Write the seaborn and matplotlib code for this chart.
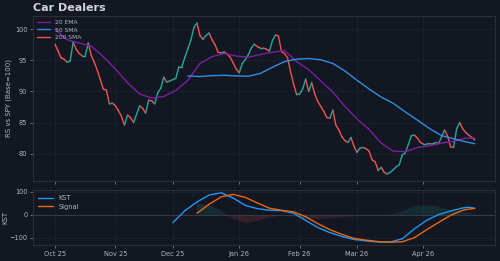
import matplotlib
matplotlib.use("Agg")

import numpy as np
import pandas as pd
import matplotlib.pyplot as plt
import seaborn as sns

# ---------- data ----------
holidays = ["2025-11-27", "2025-12-25", "2026-01-01", "2026-01-19",
            "2026-02-16", "2026-04-03"]
dates = pd.bdate_range("2025-10-06", periods=140, freq="C", holidays=holidays)

rs = [97.6, 96.5, 95.4, 95.2, 94.7, 94.9, 97.9, 96.8, 96.1, 95.75,
      95.75, 97.8, 95.8, 94.7, 93.4, 91.9, 90.35, 90.25, 88.0, 88.1,
      87.7, 86.9, 86.0, 84.6, 86.2, 85.8, 85.0, 86.3, 87.7, 87.3,
      86.5, 88.6, 88.5, 88.0, 89.8, 90.5, 92.3, 91.5, 91.7, 91.9,
      92.1, 94.0, 94.0, 95.5, 96.9, 98.3, 100.3, 101.0, 99.0, 98.4,
      99.0, 99.4, 98.3, 97.5, 96.3, 96.2, 96.35, 96.0, 95.5, 94.6,
      93.6, 93.0, 94.5, 95.1, 95.9, 97.0, 97.6, 97.2, 97.0, 97.0,
      96.8, 96.5, 98.2, 99.1, 98.9, 96.4, 96.1, 95.4, 93.2, 91.2,
      89.5, 89.6, 90.4, 92.0, 90.0, 91.4, 89.6, 88.4, 87.6, 86.8,
      85.8, 85.7, 87.0, 84.6, 83.8, 82.7, 82.1, 81.8, 82.6, 81.2,
      80.2, 80.9, 81.0, 80.8, 80.4, 79.0, 78.7, 77.3, 77.8, 77.0,
      76.75, 77.0, 77.4, 77.9, 78.2, 79.8, 80.1, 81.5, 82.9, 83.0,
      82.5, 81.8, 81.55, 81.55, 81.6, 81.55, 81.8, 81.6, 82.7, 83.8,
      82.8, 81.1, 81.0, 84.0, 85.0, 84.0, 83.4, 83.0, 82.6, 82.2]

ema_idx = [0, 4, 8, 12, 16, 20, 24, 28, 32, 36, 40, 44, 48, 52, 56, 60, 64,
           68, 72, 76, 80, 84, 88, 92, 96, 100, 104, 108, 112, 116, 120, 124,
           128, 132, 136, 139]
ema_val = [100.0, 98.3, 97.8, 97.3, 95.6, 93.6, 91.4, 89.6, 88.95, 89.2,
           90.15, 91.8, 94.5, 95.6, 96.1, 95.7, 95.5, 95.95, 96.3, 96.6,
           94.8, 93.5, 91.7, 89.9, 87.6, 85.6, 83.9, 81.7, 80.4, 80.3,
           81.0, 81.25, 81.7, 82.0, 82.5, 82.5]

sma_idx = [44, 48, 52, 56, 60, 64, 68, 72, 76, 80, 84, 88, 92, 96, 100, 104,
           108, 112, 116, 120, 124, 128, 132, 136, 139]
sma_val = [92.5, 92.4, 92.55, 92.6, 92.5, 92.45, 92.9, 93.9, 94.8, 95.2,
           95.3, 95.1, 94.5, 93.3, 91.8, 90.4, 89.1, 88.1, 86.7, 85.4,
           84.05, 82.9, 82.4, 81.9, 81.6]

kst_idx = [39, 43, 47, 51, 55, 59, 63, 67, 71, 75, 79, 83, 87, 91, 95, 99,
           103, 107, 111, 115, 119, 123, 127, 131, 135, 137, 139]
kst_val = [-35, 17, 55, 85, 95, 72, 40, 26, 19, 17.5, 6, -25, -56, -78,
           -95, -108, -114, -119, -119, -105, -62, -25, 0, 16, 29, 32, 28]

sig_idx = [47, 51, 55, 59, 63, 67, 71, 75, 79, 83, 87, 91, 95, 99, 103, 107,
           111, 115, 119, 123, 127, 131, 135, 137, 139]
sig_val = [6, 45, 77, 88, 75, 51, 28, 19, 12, -9, -39, -65, -86, -103, -111,
           -117, -120, -118, -100, -66, -34, -3, 19, 24, 27]

# ---------- style ----------
BG = "#131722"
TXT = "#b2b5be"
EDGE = "#2a2e39"
GRID = "#1c2030"
UP, DOWN = "#26a69a", "#ef5350"

sns.set_theme(style="dark", rc={
    "figure.facecolor": BG, "axes.facecolor": BG, "axes.edgecolor": EDGE,
    "text.color": TXT, "axes.labelcolor": TXT,
    "xtick.color": TXT, "ytick.color": TXT,
})

fig = plt.figure(figsize=(5, 2.61), dpi=100)
ax1 = fig.add_axes([0.066, 0.3065, 0.924, 0.6325])
ax2 = fig.add_axes([0.066, 0.0613, 0.924, 0.2107], sharex=ax1)

# ---------- price panel ----------
rows = []
for i in range(len(rs) - 1):
    d = "up" if rs[i + 1] >= rs[i] else "down"
    rows.append((i, rs[i], i, d))
    rows.append((i + 1, rs[i + 1], i, d))
seg = pd.DataFrame(rows, columns=["x", "rs", "seg", "dir"])
sns.lineplot(data=seg, x="x", y="rs", hue="dir", units="seg", estimator=None,
             palette={"up": UP, "down": DOWN}, legend=False, lw=1.0, ax=ax1)

sns.lineplot(x=ema_idx, y=ema_val, color="#7b1fa2", lw=1.0, label="20 EMA", ax=ax1)
sns.lineplot(x=sma_idx, y=sma_val, color="#2e8fe0", lw=1.0, label="50 SMA", ax=ax1)
ax1.plot([], [], color=DOWN, lw=1.0, label="200 SMA")
ax1.legend(loc="upper left", frameon=False, fontsize=4.3, labelcolor=TXT,
           handlelength=2.2, borderaxespad=0.3, labelspacing=0.35)

ax1.set_ylim(75.6, 102.15)
ax1.set_yticks([80, 85, 90, 95, 100])
ax1.set_ylabel("RS vs SPY (Base=100)", fontsize=5)
ax1.yaxis.set_label_coords(-0.046, 0.5)
ax1.set_xlabel("")

# ---------- KST panel ----------
diff_idx = sig_idx
kst_map = dict(zip(kst_idx, kst_val))
diff = np.array([kst_map[i] - s for i, s in zip(sig_idx, sig_val)])

ax2.axhline(0, color="#363a45", lw=0.8)
ax2.fill_between(diff_idx, 0, diff, where=diff >= 0, interpolate=True,
                 color=UP, alpha=0.15, lw=0)
ax2.fill_between(diff_idx, 0, diff, where=diff <= 0, interpolate=True,
                 color=DOWN, alpha=0.15, lw=0)
sns.lineplot(x=kst_idx, y=kst_val, color="#2196f3", lw=1.0, label="KST", ax=ax2)
sns.lineplot(x=sig_idx, y=sig_val, color="#e8680f", lw=1.0, label="Signal", ax=ax2)
ax2.legend(loc="upper left", frameon=False, fontsize=4.8, labelcolor=TXT,
           handlelength=2.2, borderaxespad=0.4, labelspacing=0.35)
ax2.set_ylim(-132, 107)
ax2.set_yticks([-100, 0, 100])
ax2.set_ylabel("KST", fontsize=5)
ax2.yaxis.set_label_coords(-0.053, 0.5)
ax2.set_xlabel("")

# month ticks at first trading day of each month
month = pd.Series(dates.to_period("M"))
tick_pos = list(month.index[month != month.shift()])
tick_lab = [dates[i].strftime("%b %y") for i in tick_pos]
ax2.set_xticks(tick_pos)
ax2.set_xticklabels(tick_lab)
ax2.set_xlim(-7.3, 145.7)

for ax in (ax1, ax2):
    ax.grid(True, color=GRID, lw=0.6)
    ax.tick_params(labelsize=4.8, length=2, width=0.6, color="#787b86",
                   bottom=True, left=True, pad=2)
    for s in ax.spines.values():
        s.set_color(EDGE)
        s.set_linewidth(0.8)
ax1.tick_params(labelbottom=False)

fig.text(0.066, 0.968, "Car Dealers", fontsize=8, fontweight="bold",
         color="#d1d4dc", va="center", ha="left")

fig.savefig("out.png", dpi=100, facecolor=BG)
